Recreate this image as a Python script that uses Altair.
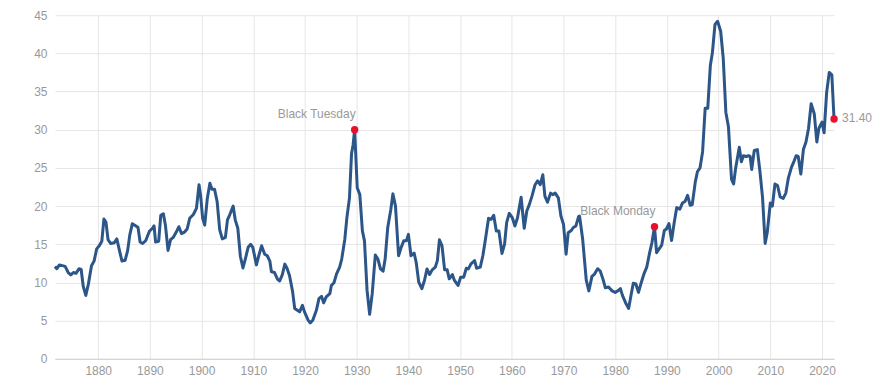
import altair as alt
import pandas as pd

years = [
    1871.63, 1872.0, 1872.5, 1873.6, 1874.2, 1874.7, 1875.2, 1875.7, 1876.3, 1876.7,
    1877.1, 1877.6, 1878.1, 1878.7, 1879.2, 1879.7, 1880.2, 1880.7, 1881.1, 1881.5,
    1881.9, 1882.4, 1883.1, 1883.6, 1884.1, 1884.6, 1885.2, 1885.7, 1886.1, 1886.6,
    1887.3, 1887.7, 1888.1, 1888.6, 1889.2, 1889.9, 1890.5, 1890.8, 1891.1, 1891.7,
    1892.1, 1892.6, 1893.0, 1893.5, 1894.0, 1894.5, 1895.1, 1895.6, 1896.1, 1896.7,
    1897.2, 1897.7, 1898.4, 1899.0, 1899.5, 1899.8, 1900.2, 1900.6, 1901.1, 1901.6,
    1902.0, 1902.5, 1903.0, 1903.5, 1904.0, 1904.6, 1905.0, 1905.4, 1906.1, 1906.5,
    1907.0, 1907.5, 1908.0, 1908.5, 1909.0, 1909.5, 1909.9, 1910.6, 1911.1, 1911.6,
    1912.2, 1912.7, 1913.2, 1913.5, 1914.1, 1914.7, 1915.1, 1915.6, 1916.1, 1916.5,
    1917.0, 1917.6, 1918.0, 1918.96, 1919.5, 1919.9, 1920.6, 1921.0, 1921.5, 1922.2,
    1922.7, 1923.2, 1923.6, 1924.1, 1924.8, 1925.1, 1925.6, 1926.1, 1926.7, 1927.1,
    1927.7, 1928.1, 1928.6, 1929.0, 1929.3, 1929.6, 1930.1, 1930.6, 1931.1, 1931.5,
    1932.0, 1932.5, 1933.0, 1933.6, 1934.1, 1934.6, 1935.1, 1935.5, 1936.0, 1936.6,
    1937.0, 1937.5, 1938.1, 1938.6, 1939.1, 1939.6, 1940.0, 1940.5, 1941.1, 1941.5,
    1942.0, 1942.6, 1943.1, 1943.6, 1944.1, 1944.6, 1945.2, 1945.6, 1946.0, 1946.5,
    1947.0, 1947.5, 1947.9, 1948.5, 1948.9, 1949.6, 1950.1, 1950.7, 1951.2, 1951.6,
    1952.1, 1952.8, 1953.2, 1953.9, 1954.4, 1954.9, 1955.5, 1956.0, 1956.5, 1957.0,
    1957.5, 1958.1, 1958.6, 1959.0, 1959.5, 1960.1, 1960.6, 1961.1, 1961.8, 1962.4,
    1962.9, 1963.4, 1963.9, 1964.5, 1965.0, 1965.5, 1966.0, 1966.4, 1966.9, 1967.5,
    1967.9, 1968.4, 1969.0, 1969.5, 1970.0, 1970.5, 1970.9, 1971.5, 1971.9, 1972.4,
    1972.9, 1973.1, 1973.7, 1974.4, 1974.9, 1975.5, 1976.0, 1976.6, 1977.1, 1977.6,
    1978.1, 1978.7, 1979.4, 1980.0, 1980.5, 1981.0, 1981.4, 1982.1, 1982.6, 1983.1,
    1983.5, 1984.0, 1984.5, 1985.0, 1985.6, 1986.1, 1986.6, 1987.1, 1987.6, 1988.0,
    1988.5, 1989.0, 1989.5, 1989.9, 1990.4, 1990.9, 1991.4, 1991.9, 1992.5, 1993.0,
    1993.5, 1994.0, 1994.5, 1994.9, 1995.5, 1995.9, 1996.4, 1996.9, 1997.4, 1997.9,
    1998.4, 1998.8, 1999.3, 1999.8, 2000.4, 2000.9, 2001.4, 2001.9, 2002.5, 2002.9,
    2003.3, 2004.0, 2004.4, 2004.8, 2005.3, 2005.8, 2006.1, 2006.4, 2006.9, 2007.5,
    2008.0, 2008.5, 2009.0, 2009.4, 2010.0, 2010.4, 2010.9, 2011.4, 2011.9, 2012.5,
    2013.0, 2013.5, 2014.1, 2014.6, 2015.0, 2015.4, 2015.9, 2016.4, 2016.9, 2017.4,
    2017.9, 2018.5, 2019.0, 2019.4, 2020.0, 2020.4, 2020.9, 2021.4, 2021.9, 2022.33,
]

pe_values = [
    12.1, 11.8, 12.3, 12.1, 11.3, 11.0, 11.3, 11.2, 11.8, 11.7,
    9.5, 8.3, 9.8, 12.2, 12.8, 14.4, 14.8, 15.4, 18.3, 17.9,
    15.6, 15.1, 15.2, 15.7, 14.2, 12.8, 12.9, 14.2, 16.2, 17.7,
    17.4, 17.2, 15.3, 15.1, 15.5, 16.7, 17.1, 17.4, 15.3, 15.4,
    18.8, 19.0, 17.5, 14.2, 15.6, 15.9, 16.6, 17.3, 16.4, 16.6,
    17.0, 18.4, 18.9, 19.7, 22.8, 21.4, 18.4, 17.5, 21.0, 23.0,
    22.2, 22.2, 20.6, 16.9, 15.7, 15.9, 18.2, 18.8, 20.0, 18.2,
    17.1, 13.4, 11.9, 13.2, 14.6, 15.0, 14.6, 12.3, 13.6, 14.8,
    13.7, 13.5, 12.8, 11.4, 11.3, 10.4, 10.2, 11.0, 12.4, 11.9,
    10.9, 8.8, 6.6, 6.15, 7.0, 6.15, 5.06, 4.71, 5.06, 6.36,
    7.88, 8.18, 7.32, 8.1, 8.53, 9.61, 9.96, 11.13, 12.0, 13.07,
    15.67, 18.48, 21.08, 26.9, 28.0, 30.0, 22.4, 21.5, 16.75, 15.45,
    8.96, 5.84, 8.53, 13.6, 13.07, 11.77, 11.47, 13.07, 17.2, 19.57,
    21.6, 20.0, 13.5, 14.6, 15.45, 15.45, 16.3, 13.5, 13.85, 12.64,
    10.04, 9.18, 10.26, 11.77, 11.04, 11.65, 12.0, 12.86, 15.58, 14.8,
    11.65, 11.65, 10.48, 11.04, 10.26, 9.61, 10.69, 10.69, 11.86, 11.77,
    12.43, 12.86, 11.86, 12.0, 13.5, 15.67, 18.4, 18.27, 18.79, 16.75,
    16.75, 13.8, 15.02, 17.83, 19.05, 18.48, 17.4, 18.48, 21.16, 17.1,
    19.35, 20.22, 21.3, 22.8, 23.3, 22.8, 24.1, 21.3, 20.5, 21.7,
    21.5, 21.7, 21.08, 18.7, 17.6, 13.7, 16.5, 16.8, 17.2, 17.4,
    18.6, 18.7, 15.7, 10.3, 8.9, 10.8, 11.1, 11.8, 11.5, 10.5,
    9.3, 9.4, 8.9, 8.7, 8.9, 9.2, 8.3, 7.2, 6.6, 8.5,
    9.9, 9.8, 8.7, 9.9, 11.2, 12.0, 13.7, 15.2, 17.3, 13.9,
    14.4, 14.9, 16.8, 17.0, 17.7, 15.5, 17.8, 19.8, 19.6, 20.4,
    20.6, 21.4, 20.1, 20.2, 23.2, 24.5, 25.0, 27.1, 32.8, 32.8,
    38.4, 40.1, 43.8, 44.2, 42.9, 39.3, 32.3, 30.4, 23.5, 22.9,
    25.0, 27.7, 25.8, 26.6, 26.5, 26.6, 26.5, 24.8, 27.3, 27.4,
    24.5, 21.1, 15.1, 16.5, 20.4, 20.0, 22.9, 22.7, 21.2, 21.0,
    21.7, 23.7, 25.1, 25.9, 26.6, 26.5, 24.2, 27.4, 28.4, 30.2,
    33.4, 32.1, 28.4, 30.2, 31.0, 29.6, 34.9, 37.5, 37.2, 31.4,
]

event_years = [1929.6, 1987.6]
event_values = [30.0, 17.3]
event_labels = ["Black Tuesday", "Black Monday"]

last_year = [2022.33]
last_value = [31.4]
last_label = ["31.40"]

x_ticks = list(range(1880, 2030, 10))
y_ticks = list(range(0, 50, 5))

line_df = pd.DataFrame({"year": years, "pe": pe_values})
events_df = pd.DataFrame({"year": event_years, "pe": event_values, "label": event_labels})
last_df = pd.DataFrame({"year": last_year, "pe": last_value, "label": last_label})
dots_df = pd.DataFrame({"year": event_years + last_year, "pe": event_values + last_value})

FONT = "Liberation Sans"
GRAY = "#999999"
BLUE = "#2c5588"
RED = "#e8102d"

x_scale = alt.Scale(domain=[1871.63, 2022.33], nice=False, zero=False)
y_scale = alt.Scale(domain=[0, 45], nice=False, zero=True)

x_axis = alt.Axis(values=x_ticks, format="d", grid=True, gridColor="#e6e6e6",
                  domain=True, domainColor="#d0d0d0", ticks=False,
                  labelColor=GRAY, labelFontSize=12, labelFont=FONT, labelPadding=7,
                  labelOverlap=False)
y_axis = alt.Axis(values=y_ticks, grid=True, gridColor="#e6e6e6", domain=False,
                  ticks=False, labelColor=GRAY, labelFontSize=12, labelFont=FONT,
                  labelPadding=8, labelOverlap=False, labelFlush=False)

x_enc = alt.X("year:Q", scale=x_scale, title=None, axis=x_axis)
y_enc = alt.Y("pe:Q", scale=y_scale, title=None, axis=y_axis)

line = alt.Chart(line_df).mark_line(color=BLUE, strokeWidth=3, strokeJoin="round").encode(
    x=x_enc, y=y_enc
)

dots = alt.Chart(dots_df).mark_point(filled=True, color=RED, size=55, opacity=1).encode(
    x=x_enc, y=y_enc
)

event_text = alt.Chart(events_df).mark_text(
    align="right", baseline="middle", dx=1, dy=-16, font=FONT, fontSize=12, color=GRAY
).encode(x=x_enc, y=y_enc, text="label:N")

last_text = alt.Chart(last_df).mark_text(
    align="left", baseline="middle", dx=8, dy=-1, font=FONT, fontSize=12, color=GRAY
).encode(x=x_enc, y=y_enc, text="label:N")

chart = alt.layer(line, dots, event_text, last_text).properties(
    width=780, height=344,
    background="white",
    autosize=alt.AutoSizeParams(type="none"),
    padding={"left": 47, "top": 7, "right": 48, "bottom": 22},
).configure_view(stroke=None)

chart.save("out.html", embed_options={"renderer": "svg", "actions": False})
